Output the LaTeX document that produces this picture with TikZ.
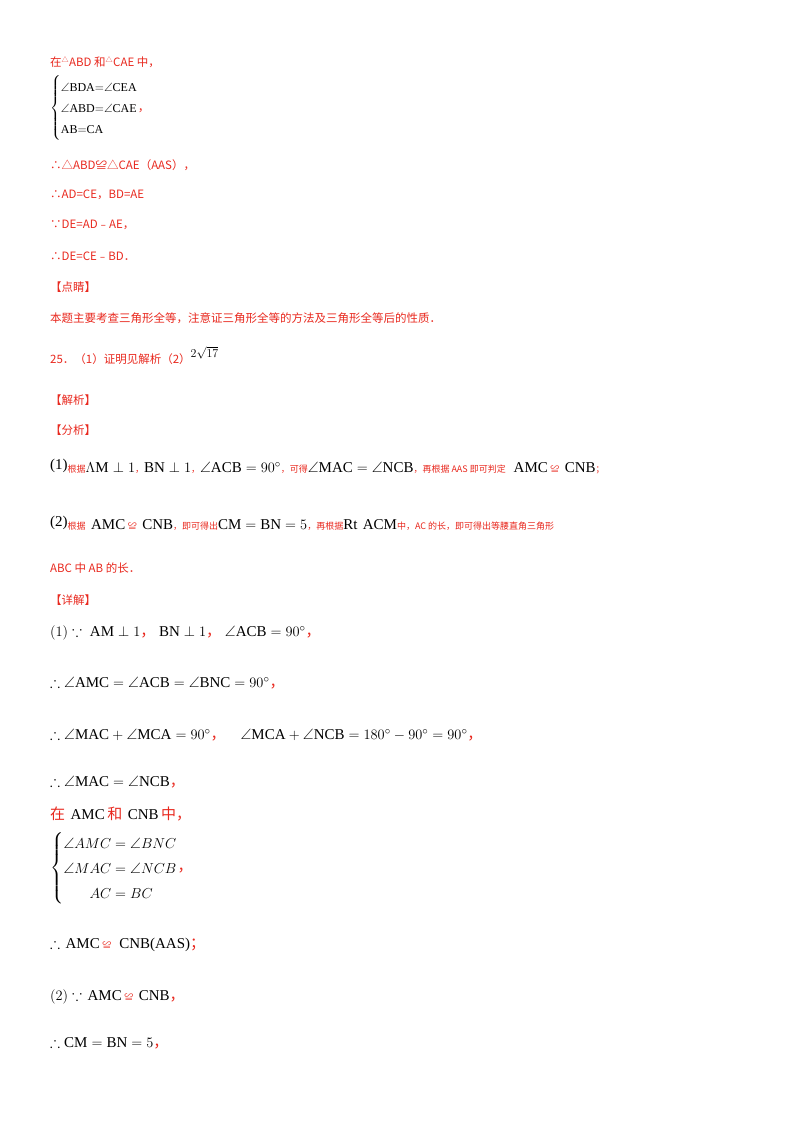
\documentclass[tikz,border=0pt]{standalone}
\usepackage{fontspec}
\usepackage{amssymb}
\setmainfont{Liberation Serif}
\newfontfamily\cjk{Noto Sans CJK SC}
\definecolor{rd}{HTML}{E8281E}
\newcommand{\rt}[1]{{\cjk\color{rd}#1}}
\begin{document}
\begin{tikzpicture}[x=1pt,y=-1pt,
  r/.style={anchor=west,inner sep=0pt,text=rd,font=\cjk\fontsize{11.5}{14}\selectfont},
  m/.style={anchor=west,inner sep=0pt,font=\fontsize{15}{18}\selectfont}]
\useasboundingbox (0,0) rectangle (800,1132);
\node[r] (t1) at (50,62) {在\textsuperscript{\scriptsize△}ABD 和\textsuperscript{\scriptsize△}CAE 中，};
\node[anchor=west,inner sep=0pt,font=\fontsize{12}{21}\selectfont] (s1) at (50,108)
 {$\left\{\begin{array}{@{}l@{}}\angle\mathrm{BDA}{=}\angle\mathrm{CEA}\\ \angle\mathrm{ABD}{=}\angle\mathrm{CAE}\\ \mathrm{AB}{=}\mathrm{CA}\end{array}\right.$\rt{，}};
\node[r] (t2) at (50,165) {∴△ABD≌△CAE（AAS），};
\node[r] (t3) at (50,195) {∴AD=CE，BD=AE};
\node[r] (t4) at (50,225) {∵DE=AD﹣AE，};
\node[r] (t5) at (50,256) {∴DE=CE﹣BD．};
\node[r] (t6) at (50,287) {【点睛】};
\node[r] (t7) at (50,318) {本题主要考查三角形全等，注意证三角形全等的方法及三角形全等后的性质．};
\node[r] (t8) at (50,356) {25．（1）证明见解析（2）\raisebox{6pt}{\color{black}\fontspec{Liberation Serif}\fontsize{13}{15}\selectfont$2\sqrt{17}$}};
\node[r] (t9) at (50,400) {【解析】};
\node[r] (t10) at (50,430) {【分析】};
\node[m] (a1) at (50,467) {\raisebox{3pt}{(1)}\rt{\small 根据}$\Lambda\mathrm{M}\perp 1$\rt{\small ，}$\mathrm{BN}\perp 1$\rt{\small ，}$\angle\mathrm{ACB}=90^\circ$\rt{\small ，可得}$\angle\mathrm{MAC}=\angle\mathrm{NCB}$\rt{\small ，再根据 AAS 即可判定}\,{\scriptsize△}AMC\,\rt{\small ≌}{\scriptsize△}CNB\rt{\small ；}};
\node[m] (a2) at (50,523) {\raisebox{3pt}{(2)}\rt{\small 根据}{\scriptsize△}AMC\,\rt{\small ≌}{\scriptsize△}CNB\rt{\small ，即可得出}$\mathrm{CM}=\mathrm{BN}=5$\rt{\small ，再根据}Rt{\scriptsize△}ACM\rt{\small 中，AC 的长，即可得出等腰直角三角形}};
\node[r] (t11) at (50,568) {ABC 中 AB 的长．};
\node[r] (t12) at (50,600) {【详解】};
\node[m] (d1) at (50,633) {$(1)\because\ \mathrm{AM}\perp 1$\rt{，}$\ \mathrm{BN}\perp 1$\rt{，}$\ \angle\mathrm{ACB}=90^\circ$\rt{，}};
\node[m] (d2) at (50,683) {$\therefore\angle\mathrm{AMC}=\angle\mathrm{ACB}=\angle\mathrm{BNC}=90^\circ$\rt{，}};
\node[m] (d3) at (50,735) {$\therefore\angle\mathrm{MAC}+\angle\mathrm{MCA}=90^\circ$\rt{，}\quad$\angle\mathrm{MCA}+\angle\mathrm{NCB}=180^\circ-90^\circ=90^\circ$\rt{，}};
\node[m] (d4) at (50,782) {$\therefore\angle\mathrm{MAC}=\angle\mathrm{NCB}$\rt{，}};
\node[m] (d5) at (50,814) {\rt{在}{\scriptsize△}AMC\,\rt{和}{\scriptsize△}CNB\,\rt{中，}};
\node[anchor=west,inner sep=0pt,font=\fontsize{15}{25}\selectfont] (s2) at (50,868)
 {$\left\{\begin{array}{@{}r@{}l@{}}\angle AMC&{}=\angle BNC\\ \angle MAC&{}=\angle NCB\\ AC&{}=BC\end{array}\right.$\rt{，}};
\node[m] (d6) at (50,945) {$\therefore${\scriptsize△}AMC\,\rt{\small ≌}\,{\scriptsize△}CNB(AAS)\rt{；}};
\node[m] (d7) at (50,997) {$(2)\because${\scriptsize△}AMC\,\rt{\small ≌}{\scriptsize△}CNB\rt{，}};
\node[m] (d8) at (50,1043) {$\therefore\mathrm{CM}=\mathrm{BN}=5$\rt{，}};
\end{tikzpicture}
\end{document}
